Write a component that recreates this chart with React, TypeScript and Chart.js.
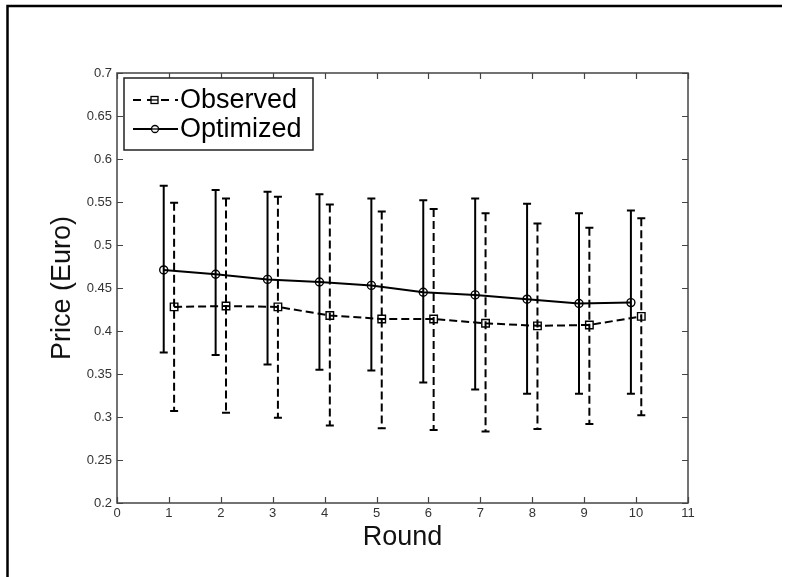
import React, { useEffect, useRef } from "react";
import { Chart, registerables } from "chart.js";

Chart.register(...registerables);

const rounds = [1, 2, 3, 4, 5, 6, 7, 8, 9, 10];
const observedMean = [0.428, 0.429, 0.428, 0.418, 0.414, 0.414, 0.409, 0.406, 0.407, 0.417];
const observedUpper = [0.549, 0.554, 0.556, 0.547, 0.539, 0.542, 0.537, 0.525, 0.520, 0.531];
const observedLower = [0.307, 0.305, 0.299, 0.290, 0.287, 0.285, 0.283, 0.286, 0.292, 0.302];
const optimizedMean = [0.471, 0.466, 0.460, 0.457, 0.453, 0.445, 0.442, 0.437, 0.432, 0.433];
const optimizedUpper = [0.569, 0.564, 0.562, 0.559, 0.554, 0.552, 0.554, 0.548, 0.537, 0.540];
const optimizedLower = [0.375, 0.372, 0.361, 0.355, 0.354, 0.340, 0.332, 0.327, 0.327, 0.327];
const xTicks = [0, 1, 2, 3, 4, 5, 6, 7, 8, 9, 10, 11];
const yTicks = [0.2, 0.25, 0.3, 0.35, 0.4, 0.45, 0.5, 0.55, 0.6, 0.65, 0.7];
const xTickLabels = ["0", "1", "2", "3", "4", "5", "6", "7", "8", "9", "10", "11"];
const yTickLabels = ["0.2", "0.25", "0.3", "0.35", "0.4", "0.45", "0.5", "0.55", "0.6", "0.65", "0.7"];
const seriesNames = ["Observed", "Optimized"];
const xTitle = "Round";
const yTitle = "Price (Euro)";

const OBS_SHIFT = 0.1;
const OPT_SHIFT = -0.1;
const FONT = "'Liberation Sans', Arial, Helvetica, sans-serif";
const DASH = [8, 4];

const customPlugin = {
  id: "matlabStyle",
  beforeDatasetsDraw(chart: any) {
    const ctx = chart.ctx;
    const xs = chart.scales.x;
    const ys = chart.scales.y;
    const drawBars = (shift: number, lo: number[], hi: number[], dash: number[]) => {
      rounds.forEach((r, i) => {
        const px = xs.getPixelForValue(r + shift);
        const pt = ys.getPixelForValue(hi[i]);
        const pb = ys.getPixelForValue(lo[i]);
        ctx.save();
        ctx.strokeStyle = "#000";
        ctx.lineWidth = 2;
        ctx.setLineDash(dash);
        ctx.beginPath();
        ctx.moveTo(px, pt);
        ctx.lineTo(px, pb);
        ctx.stroke();
        ctx.setLineDash([]);
        ctx.beginPath();
        ctx.moveTo(px - 4, pt);
        ctx.lineTo(px + 4, pt);
        ctx.moveTo(px - 4, pb);
        ctx.lineTo(px + 4, pb);
        ctx.stroke();
        ctx.restore();
      });
    };
    drawBars(OPT_SHIFT, optimizedLower, optimizedUpper, []);
    drawBars(OBS_SHIFT, observedLower, observedUpper, DASH);
  },
  afterDraw(chart: any) {
    const ctx = chart.ctx;
    const { left, right, top, bottom } = chart.chartArea;
    const xs = chart.scales.x;
    const ys = chart.scales.y;
    ctx.save();
    // axes box
    ctx.strokeStyle = "#444";
    ctx.lineWidth = 1.5;
    ctx.strokeRect(left, top, right - left, bottom - top);
    ctx.beginPath();
    xTicks.forEach((t) => {
      const px = Math.round(xs.getPixelForValue(t)) + 0.5;
      ctx.moveTo(px, bottom);
      ctx.lineTo(px, bottom - 6);
      ctx.moveTo(px, top);
      ctx.lineTo(px, top + 6);
    });
    yTicks.forEach((t) => {
      const py = Math.round(ys.getPixelForValue(t)) + 0.5;
      ctx.moveTo(left, py);
      ctx.lineTo(left + 6, py);
      ctx.moveTo(right, py);
      ctx.lineTo(right - 6, py);
    });
    ctx.lineWidth = 1.2;
    ctx.stroke();

    // tick labels
    ctx.fillStyle = "#333";
    ctx.font = `13px ${FONT}`;
    ctx.textAlign = "right";
    ctx.textBaseline = "middle";
    yTicks.forEach((t, i) => {
      ctx.fillText(yTickLabels[i], left - 5, ys.getPixelForValue(t) + 0.5);
    });
    ctx.textAlign = "center";
    ctx.textBaseline = "top";
    xTicks.forEach((t, i) => {
      ctx.fillText(xTickLabels[i], xs.getPixelForValue(t), bottom + 4);
    });

    // titles
    ctx.fillStyle = "#111";
    ctx.font = `27px ${FONT}`;
    ctx.textAlign = "center";
    ctx.textBaseline = "alphabetic";
    ctx.fillText(xTitle, (left + right) / 2, 545);
    ctx.save();
    ctx.translate(70, (top + bottom) / 2);
    ctx.rotate(-Math.PI / 2);
    ctx.fillText(yTitle, 0, 0);
    ctx.restore();

    // legend
    const lx = 124, ly = 78, lw = 189, lh = 72;
    ctx.fillStyle = "#fff";
    ctx.fillRect(lx, ly, lw, lh);
    ctx.strokeStyle = "#222";
    ctx.lineWidth = 1.5;
    ctx.strokeRect(lx, ly, lw, lh);
    const rows = [100, 129];
    ctx.strokeStyle = "#000";
    ctx.lineWidth = 2;
    // observed sample
    ctx.setLineDash([8, 6]);
    ctx.beginPath();
    ctx.moveTo(133, rows[0]);
    ctx.lineTo(178, rows[0]);
    ctx.stroke();
    ctx.setLineDash([]);
    ctx.fillStyle = "#fff";
    ctx.fillRect(151, rows[0] - 3.5, 7, 7);
    ctx.lineWidth = 1.3;
    ctx.strokeRect(151, rows[0] - 3.5, 7, 7);
    ctx.beginPath();
    ctx.moveTo(151, rows[0]);
    ctx.lineTo(158, rows[0]);
    ctx.stroke();
    // optimized sample
    ctx.lineWidth = 2;
    ctx.beginPath();
    ctx.moveTo(133, rows[1]);
    ctx.lineTo(178, rows[1]);
    ctx.stroke();
    ctx.lineWidth = 1.3;
    ctx.beginPath();
    ctx.arc(155, rows[1], 3.5, 0, Math.PI * 2);
    ctx.fillStyle = "#fff";
    ctx.fill();
    ctx.stroke();
    ctx.beginPath();
    ctx.moveTo(151.5, rows[1]);
    ctx.lineTo(158.5, rows[1]);
    ctx.stroke();
    ctx.fillStyle = "#000";
    ctx.font = `27px ${FONT}`;
    ctx.textAlign = "left";
    ctx.textBaseline = "middle";
    ctx.fillText(seriesNames[0], 180, rows[0] + 1);
    ctx.fillText(seriesNames[1], 180, rows[1] + 1);

    // outer frame (left and top)
    ctx.strokeStyle = "#000";
    ctx.lineWidth = 2.5;
    ctx.beginPath();
    ctx.moveTo(7.5, 577);
    ctx.lineTo(7.5, 6);
    ctx.lineTo(782, 6);
    ctx.stroke();
    ctx.restore();
  },
};

export default function App() {
  const ref = useRef<HTMLCanvasElement | null>(null);
  useEffect(() => {
    if (!ref.current) return;
    const chart = new Chart(ref.current, {
      type: "line",
      data: {
        datasets: [
          {
            label: seriesNames[0],
            data: rounds.map((r, i) => ({ x: r + OBS_SHIFT, y: observedMean[i] })),
            borderColor: "#000",
            borderWidth: 2,
            borderDash: DASH,
            pointStyle: "rect",
            pointRadius: 5.3,
            pointBorderWidth: 1.4,
            pointBorderColor: "#000",
            pointBackgroundColor: "rgba(0,0,0,0)",
            tension: 0,
          },
          {
            label: seriesNames[1],
            data: rounds.map((r, i) => ({ x: r + OPT_SHIFT, y: optimizedMean[i] })),
            borderColor: "#000",
            borderWidth: 2,
            pointStyle: "circle",
            pointRadius: 4,
            pointBorderWidth: 1.4,
            pointBorderColor: "#000",
            pointBackgroundColor: "rgba(0,0,0,0)",
            tension: 0,
          },
        ],
      },
      options: {
        responsive: false,
        animation: false,
        events: [],
        layout: { padding: { top: 73, right: 104, bottom: 0, left: 0 } },
        plugins: { legend: { display: false }, tooltip: { enabled: false } },
        scales: {
          x: {
            type: "linear",
            min: 0,
            max: 11,
            grid: { display: false },
            border: { display: false },
            ticks: { display: false },
            afterFit: (s: any) => {
              s.height = 74;
            },
          },
          y: {
            type: "linear",
            min: 0.2,
            max: 0.7,
            grid: { display: false },
            border: { display: false },
            ticks: { display: false },
            afterFit: (s: any) => {
              s.width = 117;
            },
          },
        },
      },
      plugins: [customPlugin],
    });
    return () => chart.destroy();
  }, []);
  return (
    <div style={{ position: "absolute", left: 0, top: 0, width: 792, height: 577, background: "#fff" }}>
      <canvas ref={ref} width={792} height={577} style={{ display: "block" }} />
    </div>
  );
}
